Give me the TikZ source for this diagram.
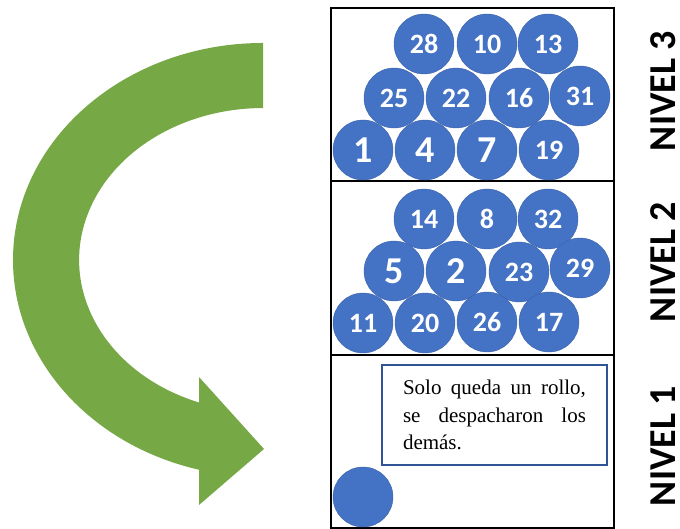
\documentclass[tikz,border=0pt]{standalone}
\usepackage{fontspec}
\setmainfont{Liberation Serif}
\newfontfamily\calibri{Carlito}
\usetikzlibrary{positioning}
\definecolor{rollblue}{RGB}{68,114,196}
\definecolor{boxblue}{RGB}{47,85,151}
\definecolor{arrowgreen}{RGB}{118,168,70}
\hyphenpenalty=10000
\tolerance=10000

\begin{document}
\begin{tikzpicture}[x=1pt, y=1pt,
    shelf/.style={draw, line width=1.2pt, minimum width=283pt, inner sep=0pt},
    roll/.style={circle, fill=rollblue, draw=rollblue!85!black, line width=0.4pt, minimum size=60pt, inner sep=0pt, text=white, font=\calibri\bfseries\fontsize{28}{28}\selectfont},
    bigroll/.style={roll, font=\calibri\bfseries\fontsize{38}{38}\selectfont},
    level/.style={rotate=90, font=\calibri\bfseries\fontsize{38}{38}\selectfont},
    note/.style={draw=boxblue, line width=1.5pt, minimum width=225pt, minimum height=100pt, text width=183pt, align=justify, font=\fontsize{21}{27.5}\selectfont}]
\useasboundingbox (0,0) rectangle (680,529);
% curved arrow
\fill[arrowgreen] (263,486) arc[start angle=90, end angle=255.2, x radius=250, y radius=217]
    -- (199,24) -- (264,80) -- (199,152) -- (199,126.5)
    arc[start angle=249.6, end angle=90, x radius=184, y radius=152] -- cycle;
% shelves
\node[shelf, minimum height=173pt] (n3) at (472.5,434.5) {};
\node[shelf, minimum height=174pt] (n2) at (472.5,261) {};
\node[shelf, minimum height=173pt] (n1) at (472.5,87.5) {};
% level 3
\foreach \n/\x/\y in {28/424/485, 10/487/485, 13/548/485, 25/394/431, 22/456/431, 16/519/431, 31/580/433, 19/549/379}
    \node[roll] (r\n) at (\x,\y) {\n};
\foreach \n/\x/\y in {1/363/379, 4/425/379, 7/487/379}
    \node[bigroll] (r\n) at (\x,\y) {\n};
% level 2
\foreach \n/\x/\y in {14/424/310, 8/487/310, 32/548/310, 23/519/257, 29/580/261, 11/363/206, 20/425/206, 26/487/207, 17/549/207}
    \node[roll] (r\n) at (\x,\y) {\n};
\foreach \n/\x/\y in {5/394/258, 2/456/258}
    \node[bigroll] (r\n) at (\x,\y) {\n};
% level 1
\node[roll] (last) at (363,32) {};
\node[note] (msg) at (494.5,114) {Solo queda un rollo, se despacharon los dem\'as.};
% labels
\node[level] (lab3) at (663,438) {NIVEL 3};
\node[level] (lab2) at (663,267) {NIVEL 2};
\node[level] (lab1) at (663,83) {NIVEL 1};
\end{tikzpicture}
\end{document}
